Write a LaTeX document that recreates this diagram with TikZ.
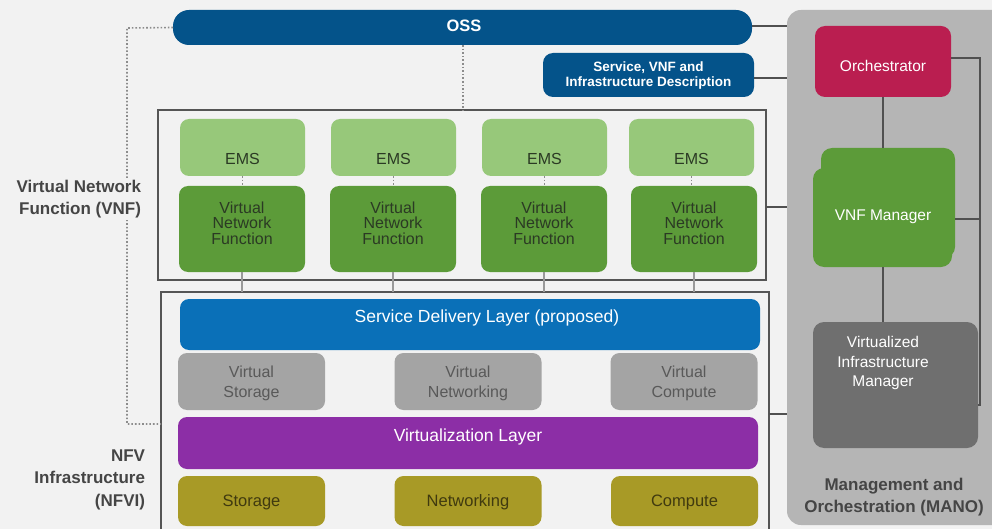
\documentclass[tikz,border=0pt]{standalone}
\usepackage{fontspec}
\setmainfont{Liberation Sans}
\usetikzlibrary{calc}

\definecolor{bg}{HTML}{F2F2F2}
\definecolor{ossblue}{HTML}{04538A}
\definecolor{sdlblue}{HTML}{0A70B8}
\definecolor{manogray}{HTML}{B5B5B5}
\definecolor{orchred}{HTML}{BA1E50}
\definecolor{vnfgreen}{HTML}{5C9B39}
\definecolor{emsgreen}{HTML}{97C87A}
\definecolor{vimgray}{HTML}{6F6F6F}
\definecolor{vboxgray}{HTML}{A4A4A4}
\definecolor{virtpurple}{HTML}{8C2EA6}
\definecolor{hwolive}{HTML}{A89A26}
\definecolor{framegray}{HTML}{555555}
\definecolor{wiregray}{HTML}{505050}
\definecolor{darktext}{HTML}{2B3A24}
\definecolor{labeltext}{HTML}{454545}

\newcommand{\fsz}[2]{\fontsize{#1}{#2}\selectfont}

\begin{document}
\begin{tikzpicture}[x=1pt,y=-1pt,
  every node/.style={inner sep=0pt, outer sep=0pt},
  frame/.style={draw=framegray, line width=1.1pt},
  wire/.style={draw=wiregray, line width=1.7pt},
  lightwire/.style={draw=black!40, line width=1.7pt},
  dots/.style={draw=black!45, line width=1.6pt, dotted},
  whitetxt/.style={text=white, align=center},
  emsbox/.style={fill=emsgreen, rounded corners=9pt, minimum width=125pt, minimum height=57pt},
  vnfbox/.style={fill=vnfgreen, rounded corners=9pt, minimum width=126pt, minimum height=86pt},
  vrbox/.style={fill=vboxgray, rounded corners=9pt, minimum width=147pt, minimum height=57pt},
  hwbox/.style={fill=hwolive, rounded corners=9pt, minimum width=147pt, minimum height=50pt},
  vnftxt/.style={text=darktext, align=center, font=\fsz{16}{15.5}},
  emstxt/.style={text=darktext, font=\fsz{16}{18}},
  vrtxt/.style={text=black!65, align=center, font=\fsz{16}{20}},
  hwtxt/.style={text=black!62!hwolive, font=\fsz{16.5}{19}},
  sidelabel/.style={text=labeltext, font=\bfseries\fsz{17}{22}, fill=bg, inner sep=2pt},
]
% canvas
\fill[bg] (0,0) rectangle (992,529);
\useasboundingbox (0,0) rectangle (992,529);

% MANO panel
\fill[manogray, rounded corners=14pt] (787,10) rectangle (1012,525);
\coordinate (manoW) at (787,270);

% OSS bar and descriptor box
\node[fill=ossblue, rounded corners=16pt, minimum width=579pt, minimum height=35pt] (oss) at (462.5,27.5) {};
\node[whitetxt, font=\bfseries\fsz{16.5}{18}] (osst) at (464,26) {OSS};
\node[fill=ossblue, rounded corners=10pt, minimum width=211pt, minimum height=44pt] (desc) at (648.5,75) {};
\node[whitetxt, font=\bfseries\fsz{13.5}{15}] (desct) at (648.5,75.5) {Service, VNF and\\Infrastructure Description};

% VNF layer frame
\node[frame, minimum width=608pt, minimum height=170pt] (vnfframe) at (462,195) {};
% NFVI frame (runs off the bottom edge)
\node[frame, minimum width=608pt, minimum height=245pt] (nfvi) at (465,414.5) {};

% dotted management links from OSS
\coordinate (dA) at (127,28);
\coordinate (dB) at (127,424);
\draw[dots] (oss.west) -- (dA) -- (dB) -- (dB -| nfvi.west);
\draw[dots] (oss.south -| 463,0) -- (vnfframe.north -| 463,0);

% EMS and VNF columns
\foreach \i/\xe/\xv in {1/242.5/242, 2/393.5/393, 3/544.5/544, 4/691.5/694} {
  \node[emsbox] (ems\i) at (\xe,147.5) {};
  \node[emstxt] (emst\i) at (\xe,158.5) {EMS};
  \node[vnfbox] (vnf\i) at (\xv,229) {};
  \node[vnftxt] (vnft\i) at (\xv,223) {Virtual\\Network\\Function};
  \draw[dots, line width=1.3pt] (ems\i.south) -- (ems\i.south |- vnf\i.north);
  \draw[lightwire] (vnf\i.south) -- (vnf\i.south |- nfvi.north);
}

% NFVI layers
\node[fill=sdlblue, rounded corners=9pt, minimum width=580pt, minimum height=51pt] (sdl) at (470,324.5) {};
\node[whitetxt, font=\fsz{17.5}{20}] (sdlt) at (487,318) {Service Delivery Layer (proposed)};

\node[vrbox] (vs) at (251.5,381.5) {};
\node[vrtxt] (vst) at (251.5,383.5) {Virtual\\Storage};
\node[vrbox] (vn) at (468,381.5) {};
\node[vrtxt] (vnt) at (468,383.5) {Virtual\\Networking};
\node[vrbox] (vc) at (684,381.5) {};
\node[vrtxt] (vct) at (684,383.5) {Virtual\\Compute};

\node[fill=virtpurple, rounded corners=9pt, minimum width=580pt, minimum height=52pt] (virt) at (468,443) {};
\node[whitetxt, font=\fsz{17.5}{20}] (virtt) at (468,437) {Virtualization Layer};

\node[hwbox] (hs) at (251.5,501) {};
\node[hwtxt] (hst) at (251.5,502.5) {Storage};
\node[hwbox] (hn) at (468,501) {};
\node[hwtxt] (hnt) at (468,502.5) {Networking};
\node[hwbox] (hc) at (684.5,501) {};
\node[hwtxt] (hct) at (684.5,502.5) {Compute};

% side labels
\node[sidelabel, align=right, anchor=east] (vnflab) at (143,199) {Virtual Network\\Function (VNF)};
\node[text=labeltext, font=\bfseries\fsz{17}{22.5}, align=right, anchor=east] (nfvilab) at (145,479.5) {NFV\\Infrastructure\\(NFVI)};

% MANO blocks
\node[fill=orchred, rounded corners=10pt, minimum width=136pt, minimum height=71pt] (orch) at (883,61.5) {};
\node[whitetxt, font=\fsz{15.5}{18}] (orcht) at (883,65.5) {Orchestrator};

% VNF Manager: two slightly offset rounded layers
\fill[vnfgreen, rounded corners=11pt] (813,168) rectangle (952,267);
\node[fill=vnfgreen, rounded corners=11pt, minimum width=134pt, minimum height=110pt] (vnfm) at (888,203) {};
\node[whitetxt, font=\fsz{15.5}{18}] (vnfmt) at (883,217) {VNF Manager};
\coordinate (vnfmS) at (883,267);

\node[fill=vimgray, rounded corners=11pt, minimum width=165pt, minimum height=126pt] (vim) at (895.5,385) {};
\node[whitetxt, font=\fsz{15.5}{19.5}] (vimt) at (883,363) {Virtualized\\Infrastructure\\Manager};

\node[text=labeltext, font=\bfseries\fsz{17}{21.5}, align=center] (manolab) at (894,497) {Management and\\Orchestration (MANO)};

% links into the MANO panel
\draw[wire] (oss.east |- 0,26) -- (manoW |- 0,26);
\draw[wire] (desc.east |- 0,78) -- (manoW |- 0,78);
\draw[wire] (vnfframe.east |- 0,207) -- (manoW |- 0,207);
\draw[wire] (nfvi.east |- 0,414) -- (manoW |- 0,414);

% links inside MANO
\coordinate (busT) at (980,58);
\coordinate (busB) at (980,405);
\draw[wire] (orch.south -| 883,0) -- (vnfm.north -| 883,0);
\draw[wire] (vnfmS) -- (vim.north -| 883,0);
\draw[wire] (orch.east |- busT) -- (busT) -- (busB) -- (vim.east |- busB);
\draw[wire] (vnfm.east |- 0,219) -- (busT |- 0,219);
\end{tikzpicture}
\end{document}
